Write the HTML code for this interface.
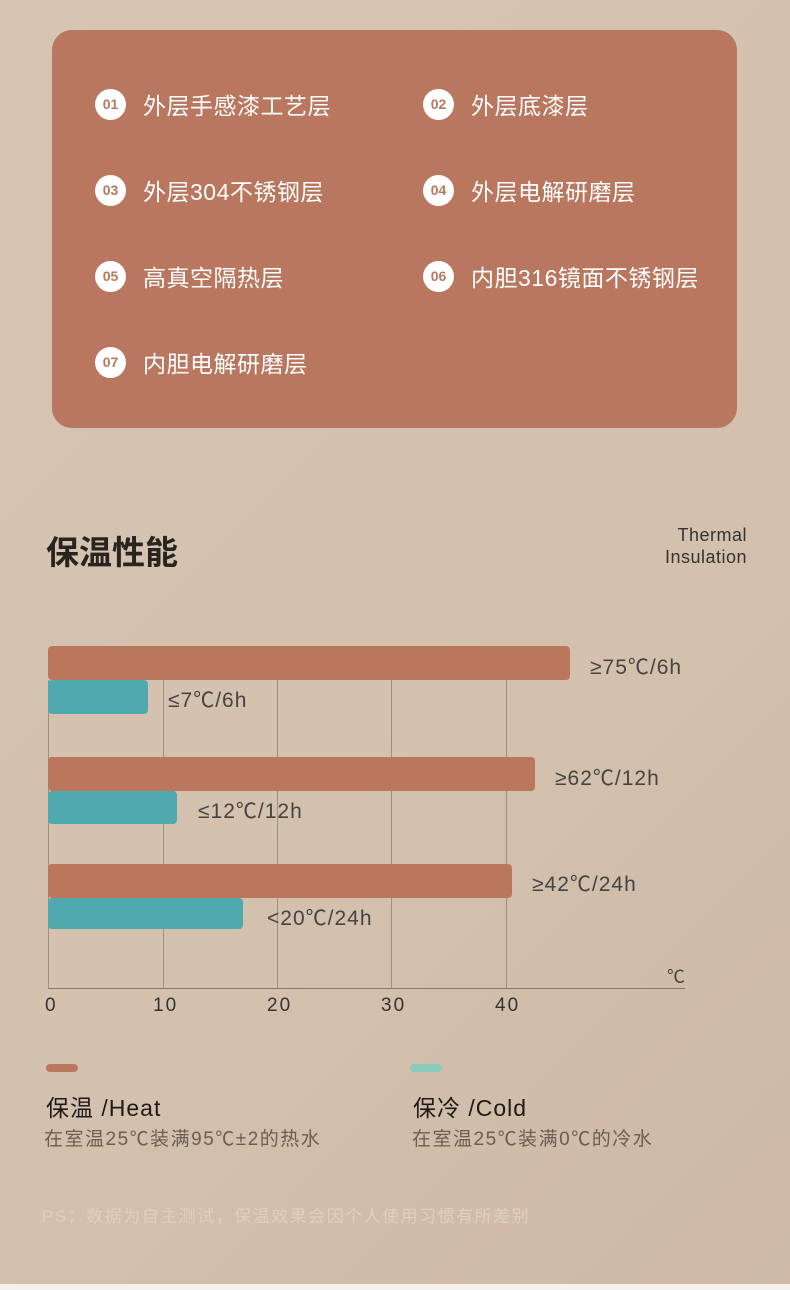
<!DOCTYPE html>
<html><head><meta charset="utf-8"><style>
body{margin:0;width:790px;height:1290px;position:relative;overflow:hidden;background:linear-gradient(135deg,#d6c5b3 0%,#d3c1ad 60%,#cdb9a5 100%);font-family:"Liberation Sans","Noto Sans CJK SC",sans-serif}
.a{position:absolute}
.card{left:52px;top:30px;width:685px;height:398px;background:#b8775e;border-radius:20px}
.it{position:absolute;color:#fff;font-size:23px;letter-spacing:0.5px;display:flex;align-items:center;height:34px}
.it b{width:31px;height:31px;border-radius:50%;background:#fff;color:#b8775e;font-size:14px;letter-spacing:0;display:inline-flex;align-items:center;justify-content:center;margin-right:17px}
.bar{position:absolute;border-radius:4px}
.h{background:#bb775d}.c{background:#4fa9ad}
.g{position:absolute;top:680px;height:308px;width:1px;background:#a09080}
.lb{position:absolute;font-size:21px;letter-spacing:1px;color:#444}
.tk{position:absolute;top:995px;font-size:19px;letter-spacing:2px;color:#333}
</style></head><body>
<div class="a card">
<div class="it" style="left:43px;top:57px"><b>01</b>外层手感漆工艺层</div>
<div class="it" style="left:371px;top:57px"><b>02</b>外层底漆层</div>
<div class="it" style="left:43px;top:143px"><b>03</b>外层304不锈钢层</div>
<div class="it" style="left:371px;top:143px"><b>04</b>外层电解研磨层</div>
<div class="it" style="left:43px;top:229px"><b>05</b>高真空隔热层</div>
<div class="it" style="left:371px;top:229px"><b>06</b>内胆316镜面不锈钢层</div>
<div class="it" style="left:43px;top:315px"><b>07</b>内胆电解研磨层</div>
</div>
<div class="a" style="left:46px;top:526px;font-size:33px;font-weight:bold;color:#2a2420">保温性能</div>
<div class="a" style="right:43px;top:524px;font-size:18px;letter-spacing:0.5px;color:#333;text-align:right;line-height:22px">Thermal<br>Insulation</div>
<div class="g" style="left:48px"></div><div class="g" style="left:163px"></div><div class="g" style="left:277px"></div><div class="g" style="left:391px"></div><div class="g" style="left:506px"></div>
<div class="a" style="left:48px;top:988px;width:637px;height:1px;background:#8a7a6c"></div>
<div class="bar h" style="left:48px;top:646px;width:522px;height:34px"></div>
<div class="bar c" style="left:48px;top:680px;width:100px;height:34px"></div>
<div class="bar h" style="left:48px;top:757px;width:487px;height:34px"></div>
<div class="bar c" style="left:48px;top:791px;width:129px;height:33px"></div>
<div class="bar h" style="left:48px;top:864px;width:464px;height:34px"></div>
<div class="bar c" style="left:48px;top:898px;width:195px;height:31px"></div>
<div class="lb" style="left:590px;top:651px">≥75℃/6h</div>
<div class="lb" style="left:168px;top:684px">≤7℃/6h</div>
<div class="lb" style="left:555px;top:762px">≥62℃/12h</div>
<div class="lb" style="left:198px;top:795px">≤12℃/12h</div>
<div class="lb" style="left:532px;top:868px">≥42℃/24h</div>
<div class="lb" style="left:267px;top:902px">&lt;20℃/24h</div>
<div class="lb" style="left:667px;top:963px;font-size:18px">℃</div>
<div class="tk" style="left:45px">0</div><div class="tk" style="left:153px">10</div><div class="tk" style="left:267px">20</div><div class="tk" style="left:381px">30</div><div class="tk" style="left:495px">40</div>
<div class="a" style="left:46px;top:1064px;width:32px;height:8px;border-radius:4px;background:#bb775d"></div>
<div class="a" style="left:410px;top:1064px;width:32px;height:8px;border-radius:4px;background:#88cbbb"></div>
<div class="a" style="left:46px;top:1089px;font-size:23px;letter-spacing:1px;color:#1e1a18">保温 /Heat</div>
<div class="a" style="left:413px;top:1089px;font-size:23px;letter-spacing:1px;color:#1e1a18">保冷 /Cold</div>
<div class="a" style="left:44px;top:1124px;font-size:19px;letter-spacing:1.5px;color:#6a5e56">在室温25℃装满95℃±2的热水</div>
<div class="a" style="left:412px;top:1124px;font-size:19px;letter-spacing:1.5px;color:#6a5e56">在室温25℃装满0℃的冷水</div>
<div class="a" style="left:42px;top:1202px;font-size:17px;letter-spacing:1.5px;color:#ddd0c2">PS：数据为自主测试，保温效果会因个人使用习惯有所差别</div>
<div class="a" style="left:0;top:1284px;width:790px;height:6px;background:#f5f2ee"></div>
</body></html>
